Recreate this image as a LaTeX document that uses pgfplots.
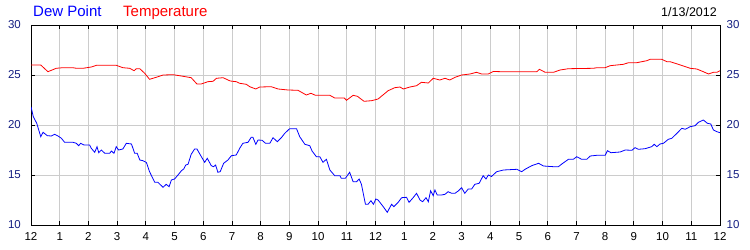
\documentclass[border=0pt]{standalone}
\usepackage{pgfplots}
\pgfplotsset{compat=1.18}
\usepackage{fontspec}
\setmainfont{Liberation Sans}
\definecolor{gridgray}{RGB}{204,204,204}
\definecolor{ylab}{RGB}{20,30,130}
\definecolor{dewblue}{RGB}{0,0,255}
\definecolor{tempred}{RGB}{255,0,0}
\begin{document}
\begin{tikzpicture}
\path[use as bounding box] (-31bp,-25bp) rectangle (719bp,225bp);
\begin{axis}[
  scale only axis,
  width=689bp, height=200bp,
  xmin=0, xmax=24, ymin=10, ymax=30,
  xtick={0,1,...,24},
  xticklabels={12,1,2,3,4,5,6,7,8,9,10,11,12,1,2,3,4,5,6,7,8,9,10,11,12},
  ytick={10,15,20,25,30},
  grid=major,
  major grid style={gridgray, line width=0.8bp},
  axis line style={black, line width=0.9bp},
  major tick style={black, line width=0.8bp},
  major tick length=4bp,
  tick align=inside,
  xtick pos=both, ytick pos=both,
  xticklabel pos=bottom,
  yticklabel pos=left,
  /pgf/number format/assume math mode=true,
  tick label style={font=\fontsize{11.5bp}{13bp}\selectfont},
  xticklabel style={inner sep=0pt, anchor=north, yshift=-7bp, text=black},
  yticklabel style={inner sep=0pt, anchor=east, xshift=-10bp, text=ylab},
]
\addplot[tempred, line width=0.8bp] coordinates {
(0,26.0) (0.34,26.0) (0.59,25.33) (0.88,25.67) (1.11,25.73) (1.46,25.73) (1.58,25.67) (1.81,25.67)
(2.1,25.8) (2.28,25.97) (2.97,25.97) (3.2,25.73) (3.44,25.67) (3.59,25.43) (3.67,25.63) (3.79,25.63)
(3.96,25.17) (4.13,24.57) (4.36,24.77) (4.60,25.0) (4.95,25.03) (5.24,24.9) (5.58,24.73) (5.78,24.1)
(5.93,24.1) (6.16,24.33) (6.34,24.37) (6.46,24.67) (6.69,24.73) (6.94,24.4) (7.15,24.33) (7.27,24.17)
(7.50,24.07) (7.62,23.83) (7.83,23.6) (7.97,23.8) (8.37,23.83) (8.61,23.6) (8.96,23.5) (9.30,23.47)
(9.59,23.0) (9.75,23.17) (9.91,22.97) (10.41,22.97) (10.58,22.7) (10.91,22.7) (10.99,22.47) (11.22,22.97)
(11.37,22.87) (11.60,22.37) (11.86,22.43) (12.09,22.6) (12.44,23.43) (12.67,23.73) (12.85,23.8) (12.97,23.6)
(13.20,23.8) (13.43,23.93) (13.60,24.27) (13.84,24.2) (14.01,24.67) (14.24,24.5) (14.42,24.67) (14.59,24.5)
(14.77,24.77) (15.0,25.0) (15.29,25.1) (15.52,25.27) (15.70,25.1) (15.93,25.1) (16.10,25.35) (16.40,25.33)
(16.75,25.33) (17.62,25.33) (17.71,25.57) (17.91,25.27) (18.20,25.27) (18.43,25.5) (18.72,25.63) (19.59,25.67)
(19.71,25.73) (20.0,25.73) (20.17,25.93) (20.64,26.07) (20.81,26.23) (21.10,26.23) (21.45,26.43) (21.57,26.57)
(21.97,26.57) (22.15,26.33) (22.26,26.33) (22.55,26.07) (22.96,25.67) (23.19,25.6) (23.42,25.33) (23.60,25.1)
(23.77,25.27) (23.89,25.27) (24.0,25.43)
};
\addplot[dewblue, line width=0.8bp] coordinates {
(0,21.83) (0.08,20.83) (0.2,20.17) (0.34,18.83) (0.42,19.27) (0.57,18.93) (0.71,18.9) (0.82,19.07)
(0.94,18.9) (1.06,18.67) (1.17,18.27) (1.46,18.27) (1.58,18.17) (1.66,17.93) (1.73,18.17) (1.85,18.0)
(2.04,18.0) (2.10,17.67) (2.22,17.27) (2.30,17.83) (2.36,17.23) (2.45,17.5) (2.57,17.17) (2.74,17.17)
(2.80,17.4) (2.89,17.17) (2.97,17.83) (3.05,17.5) (3.20,17.6) (3.32,18.17) (3.50,18.1) (3.61,17.17)
(3.70,17.17) (3.79,16.5) (3.90,16.43) (4.02,16.25) (4.13,15.33) (4.31,14.27) (4.42,14.27) (4.60,13.77)
(4.71,14.07) (4.81,13.83) (4.89,14.5) (5.0,14.6) (5.12,15.0) (5.24,15.43) (5.32,15.6) (5.39,16.0)
(5.47,16.07) (5.58,17.07) (5.70,17.6) (5.78,17.6) (5.90,17.0) (6.05,16.27) (6.14,16.67) (6.28,15.93)
(6.36,15.83) (6.43,16.0) (6.51,15.27) (6.59,15.33) (6.71,16.17) (6.86,16.5) (6.98,16.93) (7.15,17.0)
(7.27,17.67) (7.38,18.17) (7.56,18.27) (7.67,18.77) (7.73,18.77) (7.83,18.07) (7.91,18.5) (8.05,18.47)
(8.17,18.17) (8.32,18.17) (8.43,18.73) (8.58,18.33) (8.72,18.73) (8.84,19.17) (9.01,19.63) (9.25,19.63)
(9.36,18.83) (9.54,18.07) (9.71,17.93) (9.79,17.4) (9.94,16.83) (10.06,16.83) (10.17,16.27) (10.29,16.57)
(10.41,15.5) (10.58,14.93) (10.76,14.93) (10.81,14.67) (10.95,14.67) (11.10,15.27) (11.22,14.33) (11.34,14.33)
(11.43,14.6) (11.51,14.07) (11.65,12.07) (11.74,12.07) (11.84,12.43) (11.93,12.07) (12.01,12.6) (12.09,12.5)
(12.27,11.83) (12.41,11.27) (12.56,12.07) (12.64,11.83) (12.79,12.27) (12.91,12.73) (13.08,12.77) (13.17,12.27)
(13.31,12.73) (13.43,13.17) (13.55,12.5) (13.64,12.33) (13.76,12.73) (13.84,12.33) (13.92,13.43) (14.01,12.93)
(14.07,13.5) (14.15,13.0) (14.30,13.0) (14.42,13.07) (14.53,13.33) (14.65,13.17) (14.77,13.17) (14.88,13.4)
(15.0,13.73) (15.11,13.17) (15.23,13.6) (15.35,13.6) (15.46,14.07) (15.61,14.17) (15.75,14.93) (15.85,14.6)
(15.93,15.0) (16.04,14.85) (16.22,15.33) (16.46,15.5) (16.92,15.57) (17.09,15.33) (17.21,15.57) (17.44,15.93)
(17.68,16.17) (17.85,15.9) (18.20,15.83) (18.37,15.83) (18.49,16.1) (18.72,16.57) (18.89,16.57) (19.01,16.83)
(19.18,16.57) (19.36,16.57) (19.48,16.9) (19.71,16.97) (20.0,16.97) (20.08,17.43) (20.20,17.23) (20.52,17.3)
(20.70,17.5) (20.93,17.47) (21.04,17.73) (21.16,17.57) (21.39,17.63) (21.62,17.83) (21.71,18.07) (21.80,17.83)
(21.91,18.1) (22.03,18.17) (22.20,18.57) (22.32,18.67) (22.50,19.17) (22.67,19.67) (22.79,19.57) (22.96,19.83)
(23.13,19.93) (23.25,20.27) (23.42,20.5) (23.56,20.17) (23.68,20.1) (23.77,19.5) (23.89,19.33) (24.0,19.23)
};
\end{axis}
\begin{axis}[
  scale only axis,
  width=689bp, height=200bp,
  xmin=0, xmax=24, ymin=10, ymax=30,
  axis x line=none,
  axis y line*=right,
  axis line style={black, line width=0.9bp},
  ytick={10,15,20,25,30},
  major tick length=0pt,
  /pgf/number format/assume math mode=true,
  yticklabel style={font=\fontsize{11.5bp}{13bp}\selectfont, inner sep=0pt, anchor=west, xshift=6.5bp, text=ylab},
]
\end{axis}
\node[anchor=base west, inner sep=0pt, text=dewblue, font=\fontsize{15bp}{17bp}\selectfont] at (2bp,208bp) {Dew Point};
\node[anchor=base west, inner sep=0pt, text=tempred, font=\fontsize{15bp}{17bp}\selectfont] at (92bp,208bp) {Temperature};
\node[anchor=base east, inner sep=0pt, text=black, font=\fontsize{12.5bp}{14bp}\selectfont] at (686bp,208bp) {1/13/2012};
\end{tikzpicture}
\end{document}
